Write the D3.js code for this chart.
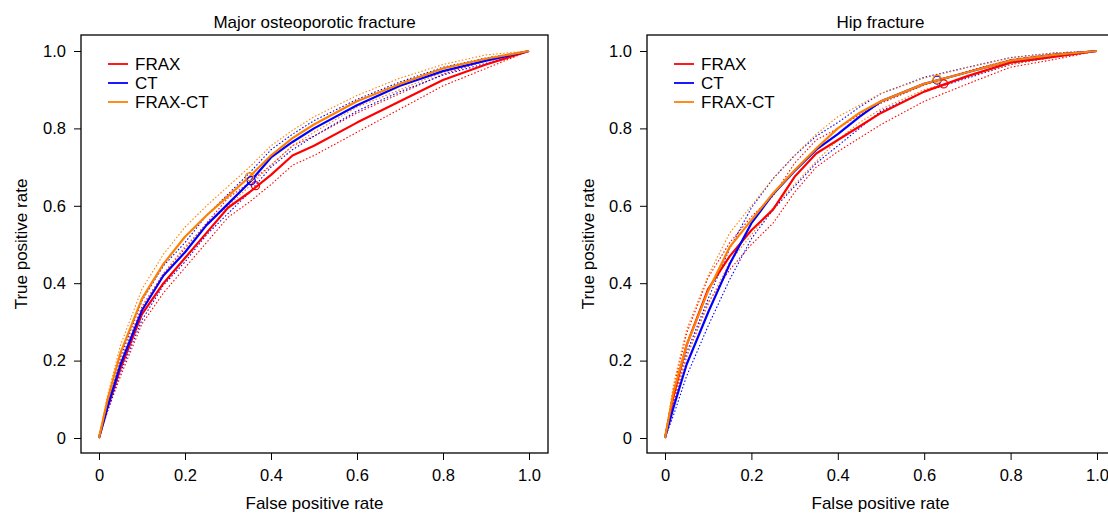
<!DOCTYPE html>
<html>
<head>
<meta charset="utf-8">
<script src="https://cdn.jsdelivr.net/npm/d3@7"></script>
<style>
body { margin: 0; background: white; }
text { font-family: "Liberation Sans", Arial, sans-serif; }
</style>
</head>
<body>
<div id="canvas"></div>
<script>
var w = 1108;
var h = 514;

var seriesNames = ["FRAX", "CT", "FRAX-CT"];
var seriesColors = ["#ff0000", "#0000ff", "#ff8000"];
var tickVals = [0, 0.2, 0.4, 0.6, 0.8, 1.0];

// false positive rate grid shared by every curve
var fpr = [0, 0.02, 0.05, 0.1, 0.15, 0.2, 0.25, 0.3, 0.35, 0.4, 0.45, 0.5, 0.6, 0.7, 0.8, 0.9, 1.0];

// Major osteoporotic fracture
var mofFrax   = [0, 0.08, 0.18, 0.32, 0.40, 0.465, 0.53, 0.595, 0.635, 0.68, 0.73, 0.755, 0.815, 0.87, 0.925, 0.965, 1];
var mofFraxHi = [0, 0.09, 0.20, 0.34, 0.425, 0.49, 0.555, 0.62, 0.66, 0.705, 0.755, 0.78, 0.84, 0.89, 0.94, 0.975, 1];
var mofFraxLo = [0, 0.07, 0.16, 0.295, 0.375, 0.44, 0.505, 0.57, 0.61, 0.655, 0.705, 0.73, 0.79, 0.85, 0.91, 0.955, 1];
var mofCt     = [0, 0.08, 0.19, 0.33, 0.42, 0.48, 0.55, 0.605, 0.66, 0.725, 0.765, 0.80, 0.86, 0.91, 0.948, 0.975, 1];
var mofCtHi   = [0, 0.09, 0.21, 0.355, 0.445, 0.505, 0.575, 0.63, 0.685, 0.745, 0.785, 0.82, 0.875, 0.92, 0.958, 0.982, 1];
var mofCtLo   = [0, 0.07, 0.17, 0.305, 0.395, 0.455, 0.525, 0.58, 0.635, 0.70, 0.745, 0.78, 0.845, 0.895, 0.938, 0.968, 1];
var mofBoth   = [0, 0.10, 0.22, 0.36, 0.45, 0.52, 0.575, 0.625, 0.675, 0.73, 0.775, 0.81, 0.87, 0.915, 0.955, 0.98, 1];
var mofBothHi = [0, 0.11, 0.24, 0.385, 0.475, 0.545, 0.60, 0.65, 0.70, 0.755, 0.795, 0.83, 0.885, 0.93, 0.965, 0.99, 1];
var mofBothLo = [0, 0.09, 0.20, 0.335, 0.425, 0.495, 0.55, 0.60, 0.65, 0.705, 0.755, 0.79, 0.855, 0.90, 0.945, 0.975, 1];
var mofCut    = [[0.364, 0.652], [0.354, 0.665], [0.35, 0.675]];

// Hip fracture
var hipFrax   = [0, 0.11, 0.24, 0.385, 0.47, 0.537, 0.59, 0.675, 0.735, 0.77, 0.805, 0.84, 0.895, 0.935, 0.97, 0.985, 1];
var hipFraxHi = [0, 0.13, 0.27, 0.415, 0.505, 0.572, 0.625, 0.71, 0.77, 0.80, 0.835, 0.865, 0.912, 0.948, 0.978, 0.992, 1];
var hipFraxLo = [0, 0.09, 0.21, 0.35, 0.435, 0.50, 0.555, 0.635, 0.70, 0.74, 0.775, 0.81, 0.87, 0.915, 0.958, 0.978, 1];
var hipCt     = [0, 0.08, 0.19, 0.325, 0.45, 0.555, 0.63, 0.69, 0.745, 0.785, 0.83, 0.87, 0.915, 0.945, 0.975, 0.99, 1];
var hipCtHi   = [0, 0.10, 0.22, 0.36, 0.49, 0.595, 0.67, 0.73, 0.78, 0.815, 0.855, 0.89, 0.932, 0.958, 0.983, 0.995, 1];
var hipCtLo   = [0, 0.06, 0.16, 0.29, 0.41, 0.515, 0.59, 0.65, 0.71, 0.755, 0.80, 0.845, 0.895, 0.93, 0.965, 0.985, 1];
var hipBoth   = [0, 0.12, 0.24, 0.38, 0.494, 0.563, 0.632, 0.692, 0.748, 0.80, 0.84, 0.87, 0.915, 0.945, 0.975, 0.99, 1];
var hipBothHi = [0, 0.14, 0.28, 0.42, 0.53, 0.60, 0.67, 0.73, 0.785, 0.83, 0.86, 0.89, 0.93, 0.957, 0.982, 0.995, 1];
var hipBothLo = [0, 0.10, 0.21, 0.345, 0.455, 0.525, 0.595, 0.655, 0.715, 0.77, 0.815, 0.85, 0.9, 0.933, 0.965, 0.985, 1];
var hipCut    = [[0.645, 0.915], [0.63, 0.925], [0.63, 0.927]];

var panels = [
  { title: "Major osteoporotic fracture", left: 81, x0: 99, x1: 529, ylab: 21,
    mid: [mofFrax, mofCt, mofBoth], hi: [mofFraxHi, mofCtHi, mofBothHi], lo: [mofFraxLo, mofCtLo, mofBothLo], cut: mofCut },
  { title: "Hip fracture", left: 647, x0: 665, x1: 1097, ylab: 588,
    mid: [hipFrax, hipCt, hipBoth], hi: [hipFraxHi, hipCtHi, hipBothHi], lo: [hipFraxLo, hipCtLo, hipBothLo], cut: hipCut }
];

var boxW = 467;
var boxTop = 35;
var boxBottom = 453;

var canvas = d3.select("#canvas")
  .append("svg")
  .attr("width", w)
  .attr("height", h)
  .style("background-color", "white");

var yScale = d3.scaleLinear().domain([0, 1]).range([438, 51]);
var fmt = function(d) { return d === 0 ? "0" : d.toFixed(1); };

panels.forEach(function(p) {
  var xScale = d3.scaleLinear().domain([0, 1]).range([p.x0, p.x1]);
  var g = canvas.append("g");

  var clipId = "clip" + p.left;
  canvas.append("clipPath").attr("id", clipId)
    .append("rect").attr("x", p.left).attr("y", boxTop).attr("width", boxW).attr("height", boxBottom - boxTop);

  var line = d3.line()
    .x(function(d) { return xScale(d[0]); })
    .y(function(d) { return yScale(d[1]); });

  var plot = g.append("g").attr("clip-path", "url(#" + clipId + ")");

  // dotted confidence limits
  [0, 1, 2].forEach(function(i) {
    [p.lo[i], p.hi[i]].forEach(function(arr) {
      plot.append("path")
        .datum(fpr.map(function(f, k) { return [f, arr[k]]; }))
        .attr("d", line)
        .attr("fill", "none")
        .attr("stroke", seriesColors[i])
        .attr("stroke-width", 1.1)
        .attr("stroke-dasharray", "1.5,2");
    });
  });

  // main curves
  [0, 1, 2].forEach(function(i) {
    plot.append("path")
      .datum(fpr.map(function(f, k) { return [f, p.mid[i][k]]; }))
      .attr("d", line)
      .attr("fill", "none")
      .attr("stroke", seriesColors[i])
      .attr("stroke-width", 2.2)
      .attr("stroke-linejoin", "round");
  });

  // threshold markers
  plot.selectAll("circle.cut")
    .data(p.cut)
    .join("circle")
    .attr("cx", function(d) { return xScale(d[0]); })
    .attr("cy", function(d) { return yScale(d[1]); })
    .attr("r", 4)
    .attr("fill", "none")
    .attr("stroke", function(d, i) { return seriesColors[i]; })
    .attr("stroke-width", 1.3);

  // box
  g.append("rect")
    .attr("x", p.left).attr("y", boxTop)
    .attr("width", boxW).attr("height", boxBottom - boxTop)
    .attr("fill", "none").attr("stroke", "black").attr("stroke-width", 1.3);

  var xAxis = d3.axisBottom(xScale).tickValues(tickVals).tickFormat(fmt).tickSize(7).tickPadding(9);
  var gx = g.append("g").attr("transform", "translate(0," + boxBottom + ")").call(xAxis);
  gx.select(".domain").remove();
  gx.selectAll("text").style("font-size", "16.5px").attr("fill", "black");

  var yAxis = d3.axisLeft(yScale).tickValues(tickVals).tickFormat(fmt).tickSize(7).tickPadding(8);
  var gy = g.append("g").attr("transform", "translate(" + p.left + ",0)").call(yAxis);
  gy.select(".domain").remove();
  gy.selectAll("text").style("font-size", "16.5px").attr("fill", "black");

  g.append("text")
    .attr("x", p.left + boxW / 2).attr("y", 28)
    .attr("text-anchor", "middle")
    .style("font-size", "17px")
    .text(p.title);

  g.append("text")
    .attr("x", p.left + boxW / 2).attr("y", 509)
    .attr("text-anchor", "middle")
    .style("font-size", "17px")
    .text("False positive rate");

  g.append("text")
    .attr("transform", "translate(" + (p.ylab + 6) + "," + ((boxTop + boxBottom) / 2) + ") rotate(-90)")
    .attr("text-anchor", "middle")
    .style("font-size", "17px")
    .text("True positive rate");

  // legend
  var legend = g.append("g").attr("transform", "translate(" + (p.left + 27) + ",64)");
  var items = legend.selectAll("g")
    .data(seriesNames)
    .join("g")
    .attr("transform", function(d, i) { return "translate(0," + (i * 19) + ")"; });
  items.append("line")
    .attr("x1", 0).attr("x2", 20)
    .attr("stroke", function(d, i) { return seriesColors[i]; })
    .attr("stroke-width", 1.8);
  items.append("text")
    .attr("x", 27).attr("y", 6)
    .style("font-size", "17px")
    .text(function(d) { return d; });
});
</script>
</body>
</html>
